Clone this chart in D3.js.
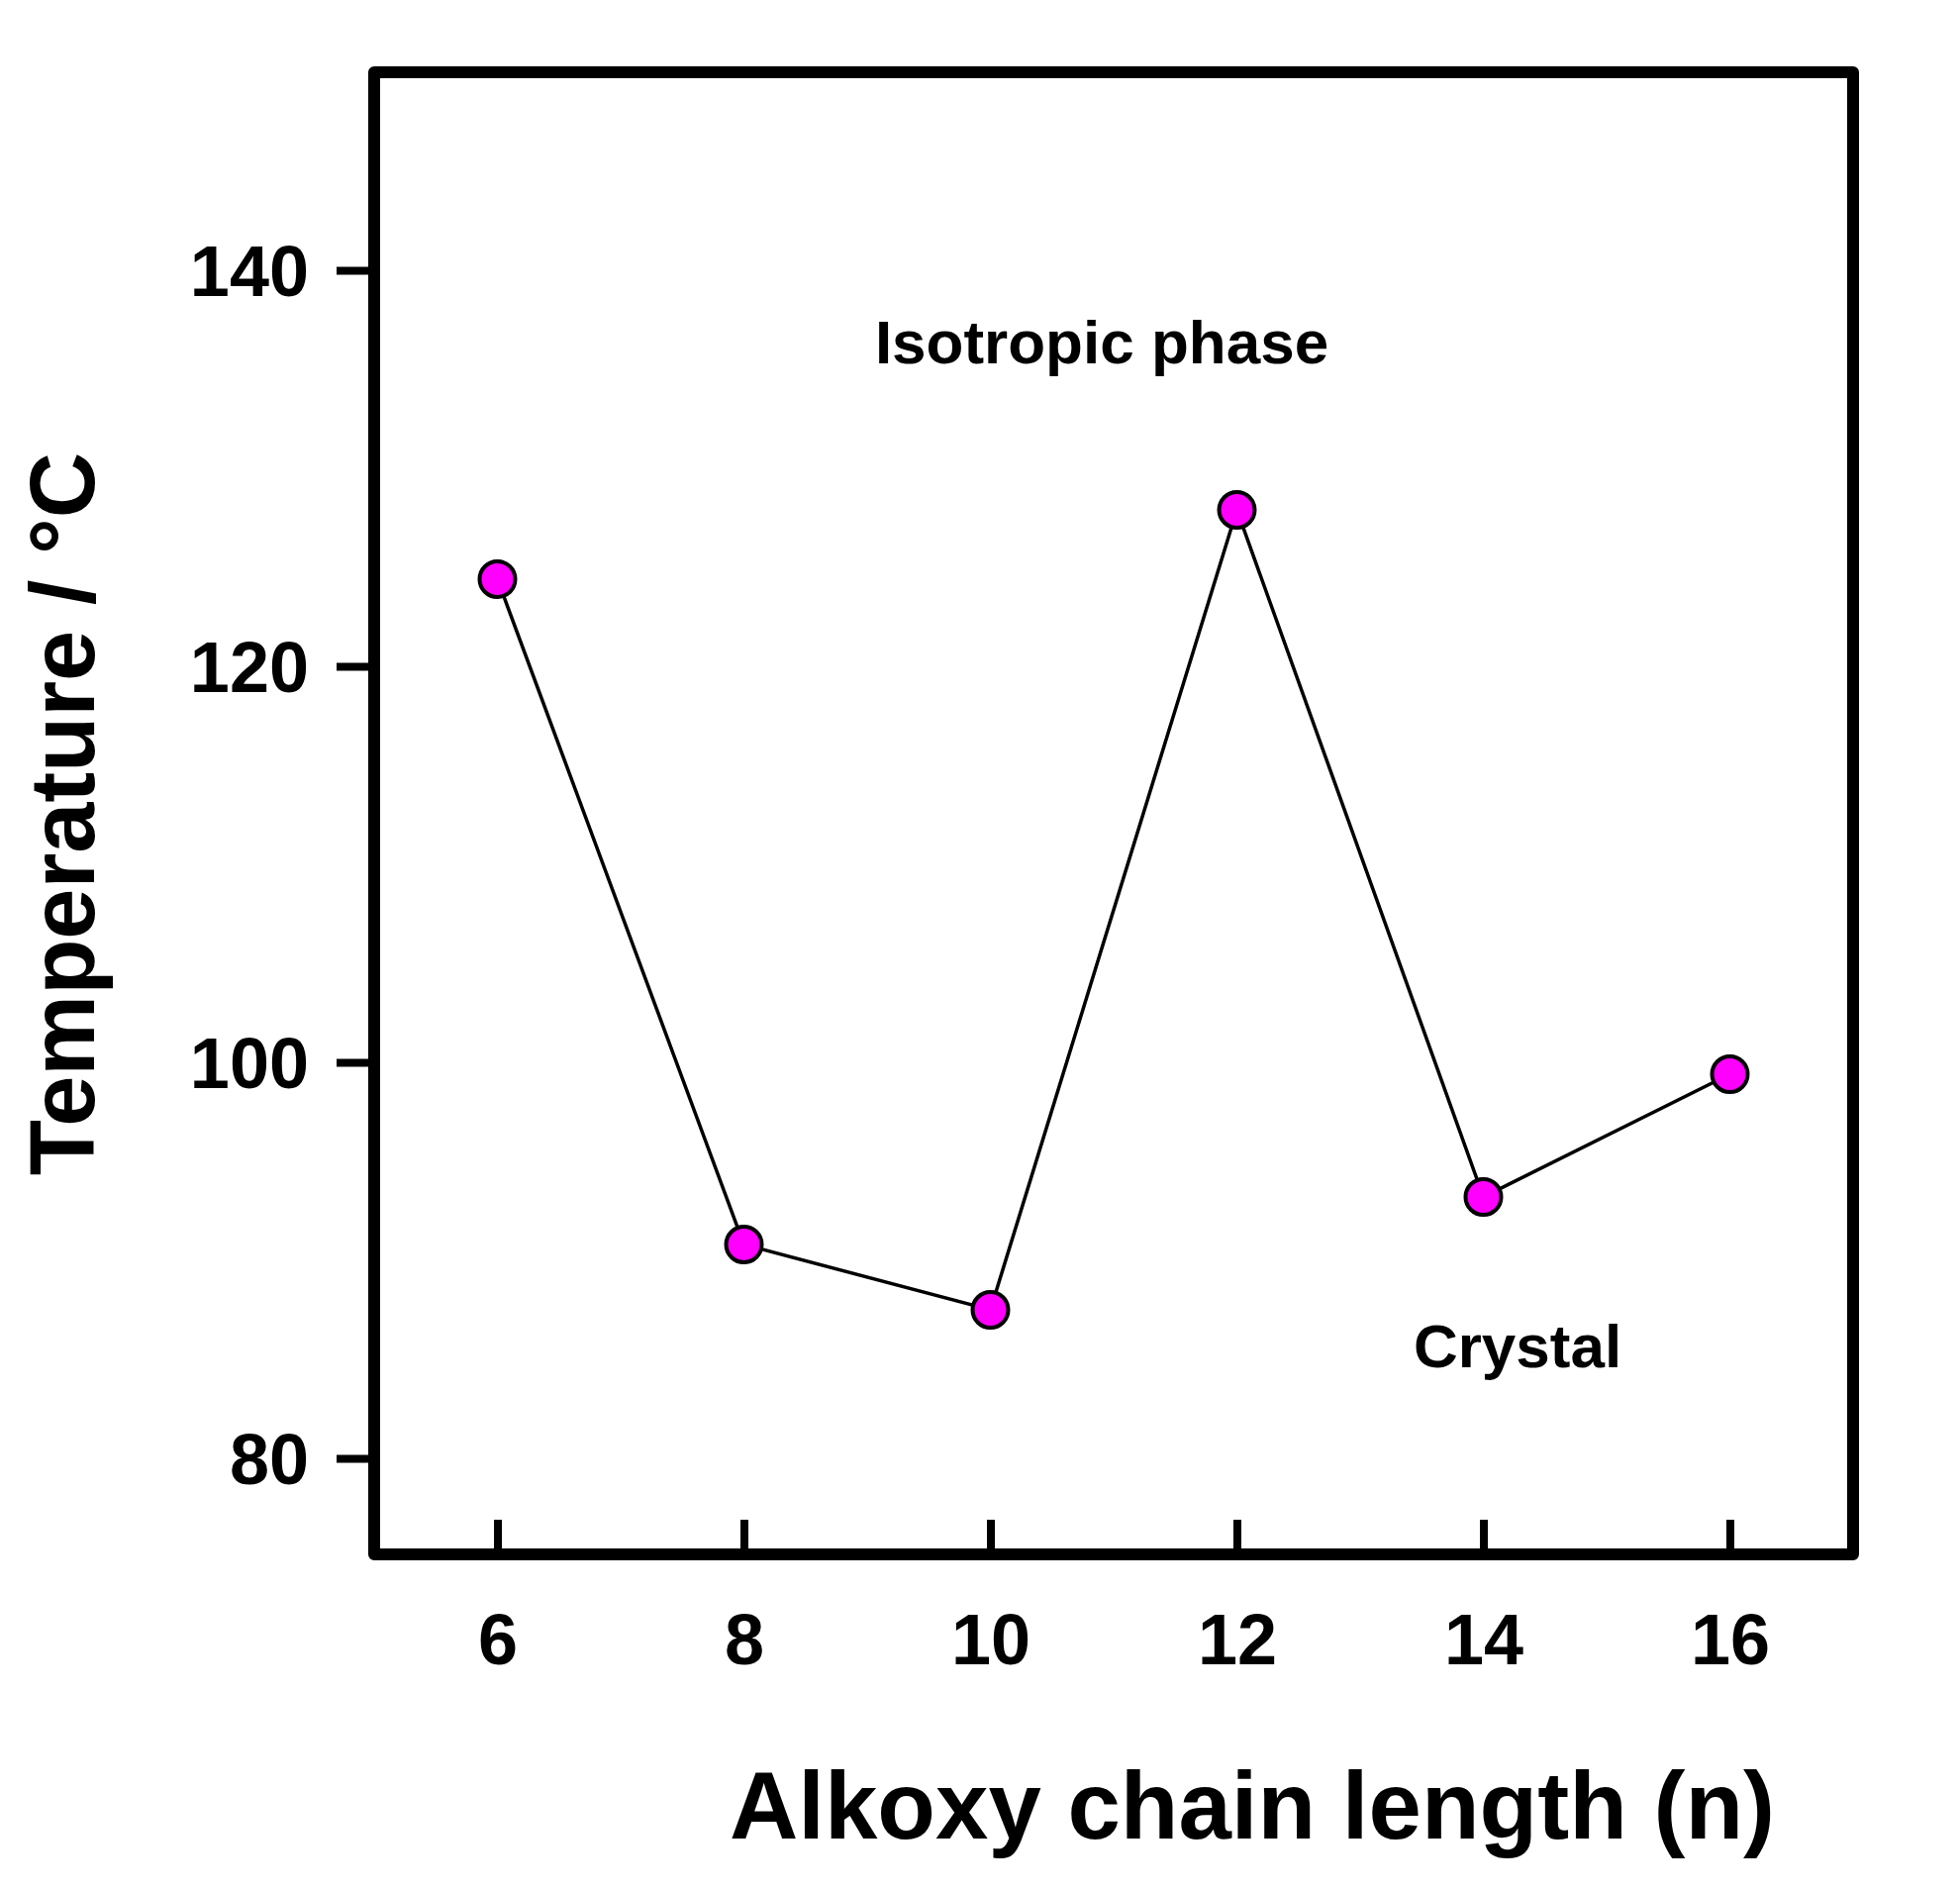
<!DOCTYPE html>
<html>
<head>
<meta charset="utf-8">
<script src="https://cdn.jsdelivr.net/npm/d3@7"></script>
<style>
  body { margin: 0; background: #fff; }
  text { font-family: "Liberation Sans", Arial, sans-serif; font-weight: bold; fill: #000; }
</style>
</head>
<body>
<svg id="chart" width="1980" height="1910"></svg>
<script>
'use strict';

// chain length n vs transition temperature
var chainLength = [6, 8, 10, 12, 14, 16];
var temperature = [124.4, 90.8, 87.5, 127.9, 93.2, 99.4];
var xTicks = [6, 8, 10, 12, 14, 16];
var yTicks = [80, 100, 120, 140];

var svg = d3.select('#chart');
var x = d3.scaleLinear().domain([5, 17]).range([378, 1872]);
var y = d3.scaleLinear().domain([75, 150]).range([1573, 73]);

// y axis, ticks outward
svg.append('g')
  .attr('transform', 'translate(378,0)')
  .call(d3.axisLeft(y).tickValues(yTicks).tickSize(38).tickPadding(28))
  .call(function (g) {
    g.select('.domain').remove();
    g.selectAll('line').attr('stroke-width', 8);
    g.selectAll('text').attr('font-size', 72).attr('dy', '0.36em');
  });

// x axis, ticks pointing into the box
svg.append('g')
  .attr('transform', 'translate(0,1570)')
  .call(d3.axisBottom(x).tickValues(xTicks).tickSizeInner(-35).tickSizeOuter(0).tickPadding(60))
  .call(function (g) {
    g.select('.domain').remove();
    g.selectAll('line').attr('stroke-width', 8);
    g.selectAll('text').attr('font-size', 72).attr('dy', '0.71em');
  });

// frame
svg.append('rect')
  .attr('x', 378).attr('y', 73)
  .attr('width', 1872 - 378).attr('height', 1570 - 73)
  .attr('fill', 'none').attr('stroke', '#000').attr('stroke-width', 12)
  .attr('stroke-linejoin', 'round');

var pts = chainLength.map(function (n, i) { return [n, temperature[i]]; });

svg.append('path')
  .datum(pts)
  .attr('fill', 'none').attr('stroke', '#000').attr('stroke-width', 3.5)
  .attr('d', d3.line().x(function (d) { return x(d[0]); }).y(function (d) { return y(d[1]); }));

svg.selectAll('circle.pt')
  .data(pts).enter().append('circle')
  .attr('class', 'pt')
  .attr('cx', function (d) { return x(d[0]); })
  .attr('cy', function (d) { return y(d[1]); })
  .attr('r', 18)
  .attr('fill', '#ff00ff').attr('stroke', '#000').attr('stroke-width', 4);

// annotations
svg.append('text').attr('x', 1113).attr('y', 367).attr('text-anchor', 'middle')
  .attr('font-size', 62).text('Isotropic phase');
svg.append('text').attr('x', 1533).attr('y', 1381).attr('text-anchor', 'middle')
  .attr('font-size', 62).text('Crystal');

// axis titles
svg.append('text').attr('x', 1265).attr('y', 1857).attr('text-anchor', 'middle')
  .attr('font-size', 96).text('Alkoxy chain length (n)');
svg.append('text').attr('transform', 'translate(95,822) rotate(-90)').attr('text-anchor', 'middle')
  .attr('font-size', 92).text('Temperature / °C');
</script>
</body>
</html>
